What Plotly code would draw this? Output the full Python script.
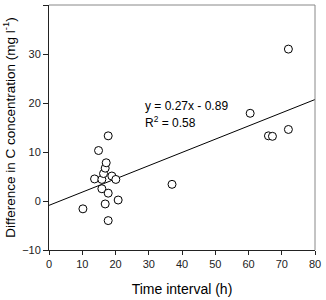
import plotly.graph_objects as go

time_h = [10.2, 13.7, 14.9, 15.9, 15.9, 16.4, 16.9, 16.9, 17.2, 17.8, 17.8, 17.8,
          18.9, 20.1, 20.8, 37.0, 60.5, 66.0, 67.2, 72.0, 72.0]
diff_c = [-1.6, 4.5, 10.3, 4.4, 2.5, 5.6, 6.7, -0.6, 7.8, 13.3, 1.6, -4.0,
          5.1, 4.4, 0.2, 3.4, 17.9, 13.3, 13.2, 14.6, 31.0]
slope = 0.27
intercept = -0.89
fit_x = [0, 80]
fit_y = [slope * v + intercept for v in fit_x]
x_ticks = [0, 10, 20, 30, 40, 50, 60, 70, 80]
y_ticks = [-10, 0, 10, 20, 30, 40]

FONT = "Arial, Liberation Sans, sans-serif"

fig = go.Figure()
fig.add_trace(go.Scatter(x=fit_x, y=fit_y, mode="lines",
                         line=dict(color="black", width=1), showlegend=False))
fig.add_trace(go.Scatter(x=time_h, y=diff_c, mode="markers",
                         marker=dict(symbol="circle", size=8, color="white",
                                     line=dict(color="black", width=1)),
                         showlegend=False))

fig.add_annotation(x=28.3, y=19.4, xref="x", yref="y", text="y = 0.27x - 0.89",
                   showarrow=False, xanchor="left", yanchor="middle",
                   font=dict(family=FONT, size=12, color="black"))
fig.add_annotation(x=28.3, y=16.2, xref="x", yref="y", text="R<sup>2</sup> = 0.58",
                   showarrow=False, xanchor="left", yanchor="middle",
                   font=dict(family=FONT, size=12, color="black"))

# top and right frame in grey
fig.add_shape(type="line", xref="paper", yref="paper", x0=0, x1=1, y0=1, y1=1,
              line=dict(color="#888888", width=1))
fig.add_shape(type="line", xref="paper", yref="paper", x0=1, x1=1, y0=0, y1=1,
              line=dict(color="#888888", width=1))

fig.update_layout(
    width=326, height=300,
    margin=dict(l=49, r=8, t=5, b=50),
    paper_bgcolor="white", plot_bgcolor="white",
    font=dict(family=FONT, size=11, color="black"),
    xaxis=dict(range=[0, 80], tickvals=x_ticks, showgrid=False, zeroline=False,
               showline=True, linecolor="#222222", linewidth=1,
               ticks="outside", ticklen=4, tickcolor="#222222",
               tickfont=dict(size=11, color="#222222"),
               title=dict(text="Time interval (h)", font=dict(size=14), standoff=14)),
    yaxis=dict(range=[-10, 40], tickvals=y_ticks, showgrid=False, zeroline=False,
               showline=True, linecolor="#222222", linewidth=1,
               ticks="outside", ticklen=5, tickcolor="#222222",
               tickfont=dict(size=11, color="#222222"),
               title=dict(text="Difference in C concentration (mg l<sup>-1</sup>)",
                          font=dict(size=13.5), standoff=5)),
)

fig.write_html("out.html")
